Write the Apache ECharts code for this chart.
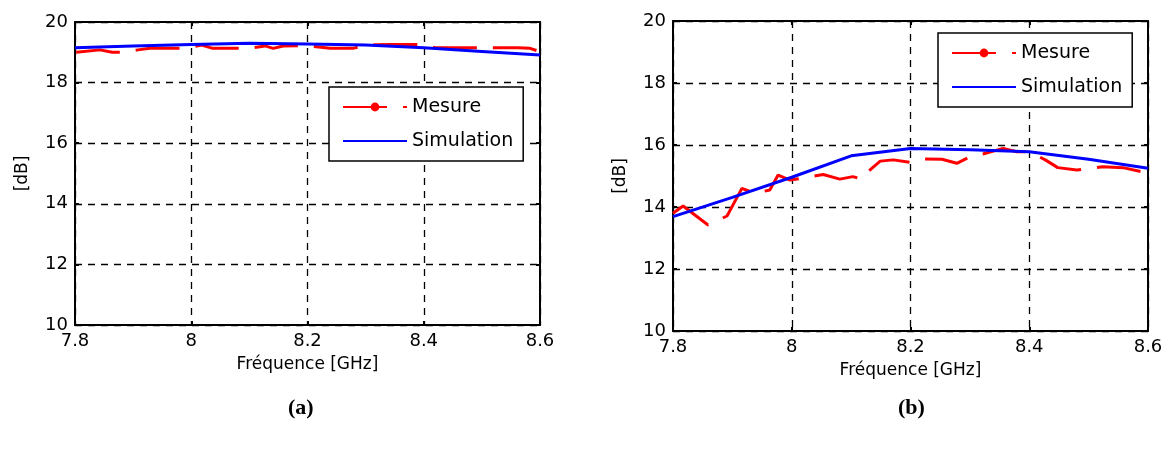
<!DOCTYPE html>
<html>
<head>
<meta charset="utf-8">
<script src="https://cdn.jsdelivr.net/npm/echarts@6/dist/echarts.min.js"></script>
<style>
html,body{margin:0;padding:0;background:#fff;}
#chart{width:1168px;height:453px;}
</style>
</head>
<body>
<div id="chart"></div>
<script>
// ---- data (a) ----
const freqMesA = [7.802,7.843,7.864,7.881,7.908,7.929,7.989,8.018,8.037,8.098,8.127,8.141,8.158,8.196,8.239,8.278,8.302,8.345,8.399,8.419,8.454,8.535,8.562,8.583,8.600];
const mesA     = [19.00,19.08,19.00,19.00,19.08,19.13,19.13,19.24,19.13,19.13,19.21,19.13,19.21,19.22,19.13,19.13,19.24,19.26,19.26,19.15,19.15,19.15,19.15,19.13,19.02];
const freqSimA = [7.8,7.9,8.0,8.1,8.2,8.3,8.4,8.5,8.6];
const simA     = [19.15,19.21,19.26,19.30,19.27,19.24,19.15,19.03,18.91];
// ---- data (b) ----
const freqMesB = [7.800,7.817,7.859,7.891,7.916,7.938,7.963,7.977,7.997,8.019,8.053,8.081,8.103,8.118,8.127,8.149,8.171,8.199,8.221,8.253,8.278,8.300,8.322,8.356,8.379,8.401,8.427,8.448,8.480,8.524,8.558,8.600];
const mesB     = [13.80,14.03,13.42,13.71,14.60,14.44,14.55,15.03,14.87,14.93,15.05,14.90,14.98,14.90,15.12,15.48,15.52,15.44,15.55,15.54,15.41,15.62,15.71,15.89,15.78,15.78,15.52,15.27,15.19,15.30,15.27,15.09];
const freqSimB = [7.8,7.9,8.0,8.1,8.2,8.3,8.4,8.5,8.6];
const simB     = [13.69,14.31,14.96,15.65,15.89,15.85,15.78,15.54,15.25];
// ---- axes ----
const xTicks = [7.8, 8.0, 8.2, 8.4, 8.6];
const yTicks = [10, 12, 14, 16, 18, 20];
const seriesNames = ['Mesure', 'Simulation'];
const panelLabels = ['(a)', '(b)'];

const zip = (xs, ys) => xs.map((x, i) => [x, ys[i]]);
const FONT = 'DejaVu Sans';
const fmt = v => String(Math.round(v * 10) / 10);

const grids = [
  {left: 75, right: 628, top: 22, bottom: 128},
  {left: 673, right: 20, top: 21, bottom: 122}
];

function mainX(gi) {
  return {
    type: 'value', gridIndex: gi, position: 'bottom',
    min: xTicks[0], max: xTicks[xTicks.length - 1], interval: 0.2,
    name: 'Fréquence [GHz]', nameLocation: 'middle', nameGap: 31,
    nameTextStyle: {fontFamily: FONT, fontSize: 17, color: '#000'},
    axisLine: {show: true, lineStyle: {color: '#000', width: 2}},
    axisTick: {show: true, inside: true, length: 4, lineStyle: {color: '#000', width: 2}},
    axisLabel: {fontFamily: FONT, fontSize: 18, color: '#000', margin: 7, formatter: fmt},
    splitLine: {show: true, lineStyle: {color: '#000', width: 1.3, type: [7, 6]}}
  };
}
function topX(gi) {
  return {
    type: 'value', gridIndex: gi, position: 'top',
    min: xTicks[0], max: xTicks[xTicks.length - 1], interval: 0.2,
    axisLine: {show: true, lineStyle: {color: '#000', width: 2}},
    axisTick: {show: true, inside: true, length: 4, lineStyle: {color: '#000', width: 2}},
    axisLabel: {show: false}, splitLine: {show: false}
  };
}
function mainY(gi) {
  return {
    type: 'value', gridIndex: gi, position: 'left',
    min: yTicks[0], max: yTicks[yTicks.length - 1], interval: 2,
    name: '[dB]', nameLocation: 'middle', nameGap: 44, nameRotate: 90,
    nameTextStyle: {fontFamily: FONT, fontSize: 17, color: '#000'},
    axisLine: {show: true, lineStyle: {color: '#000', width: 2}},
    axisTick: {show: true, inside: true, length: 4, lineStyle: {color: '#000', width: 2}},
    axisLabel: {fontFamily: FONT, fontSize: 18, color: '#000', margin: 7},
    splitLine: {show: true, lineStyle: {color: '#000', width: 1.3, type: [7, 6]}}
  };
}
function rightY(gi) {
  return {
    type: 'value', gridIndex: gi, position: 'right',
    min: yTicks[0], max: yTicks[yTicks.length - 1], interval: 2,
    axisLine: {show: true, lineStyle: {color: '#000', width: 2}},
    axisTick: {show: true, inside: true, length: 4, lineStyle: {color: '#000', width: 2}},
    axisLabel: {show: false}, splitLine: {show: false}
  };
}

function mesSeries(ai, data) {
  return {
    name: seriesNames[0], type: 'line', xAxisIndex: ai, yAxisIndex: ai,
    data: data, symbol: 'circle', symbolSize: 8, showSymbol: false,
    itemStyle: {color: '#ff0000'},
    lineStyle: {color: '#ff0000', width: 3, type: [44, 16]},
    animation: false, z: 3
  };
}
function simSeries(ai, data) {
  return {
    name: seriesNames[1], type: 'line', xAxisIndex: ai, yAxisIndex: ai,
    data: data, symbol: 'none', showSymbol: false,
    itemStyle: {color: '#0000ff'},
    lineStyle: {color: '#0000ff', width: 3},
    animation: false, z: 4
  };
}

function legend(left, top) {
  return {
    data: [{name: seriesNames[0]}, {name: seriesNames[1], itemStyle: {opacity: 0}}],
    orient: 'vertical', left: left, top: top,
    itemWidth: 64, itemHeight: 11, itemGap: 12, selectedMode: false,
    padding: [9, 10, 9, 13],
    backgroundColor: '#fff', borderColor: '#000', borderWidth: 1.5, borderRadius: 0,
    textStyle: {fontFamily: FONT, fontSize: 19, color: '#000', lineHeight: 22}
  };
}

const chart = echarts.init(document.getElementById('chart'), null, {renderer: 'canvas'});
chart.setOption({
  backgroundColor: '#fff',
  animation: false,
  grid: grids.map(g => Object.assign({show: false, containLabel: false}, g)),
  xAxis: [mainX(0), mainX(1), topX(0), topX(1)],
  yAxis: [mainY(0), mainY(1), rightY(0), rightY(1)],
  legend: [legend(329, 87), legend(938, 33)],
  series: [
    mesSeries(0, zip(freqMesA, mesA)),
    simSeries(0, zip(freqSimA, simA)),
    mesSeries(1, zip(freqMesB, mesB)),
    simSeries(1, zip(freqSimB, simB))
  ],
  graphic: [
    {type: 'text', left: 288, top: 397, style: {text: panelLabels[0], font: 'bold 22px "Liberation Serif"', fill: '#000'}},
    {type: 'text', left: 898, top: 397, style: {text: panelLabels[1], font: 'bold 22px "Liberation Serif"', fill: '#000'}}
  ]
});
</script>
</body>
</html>
